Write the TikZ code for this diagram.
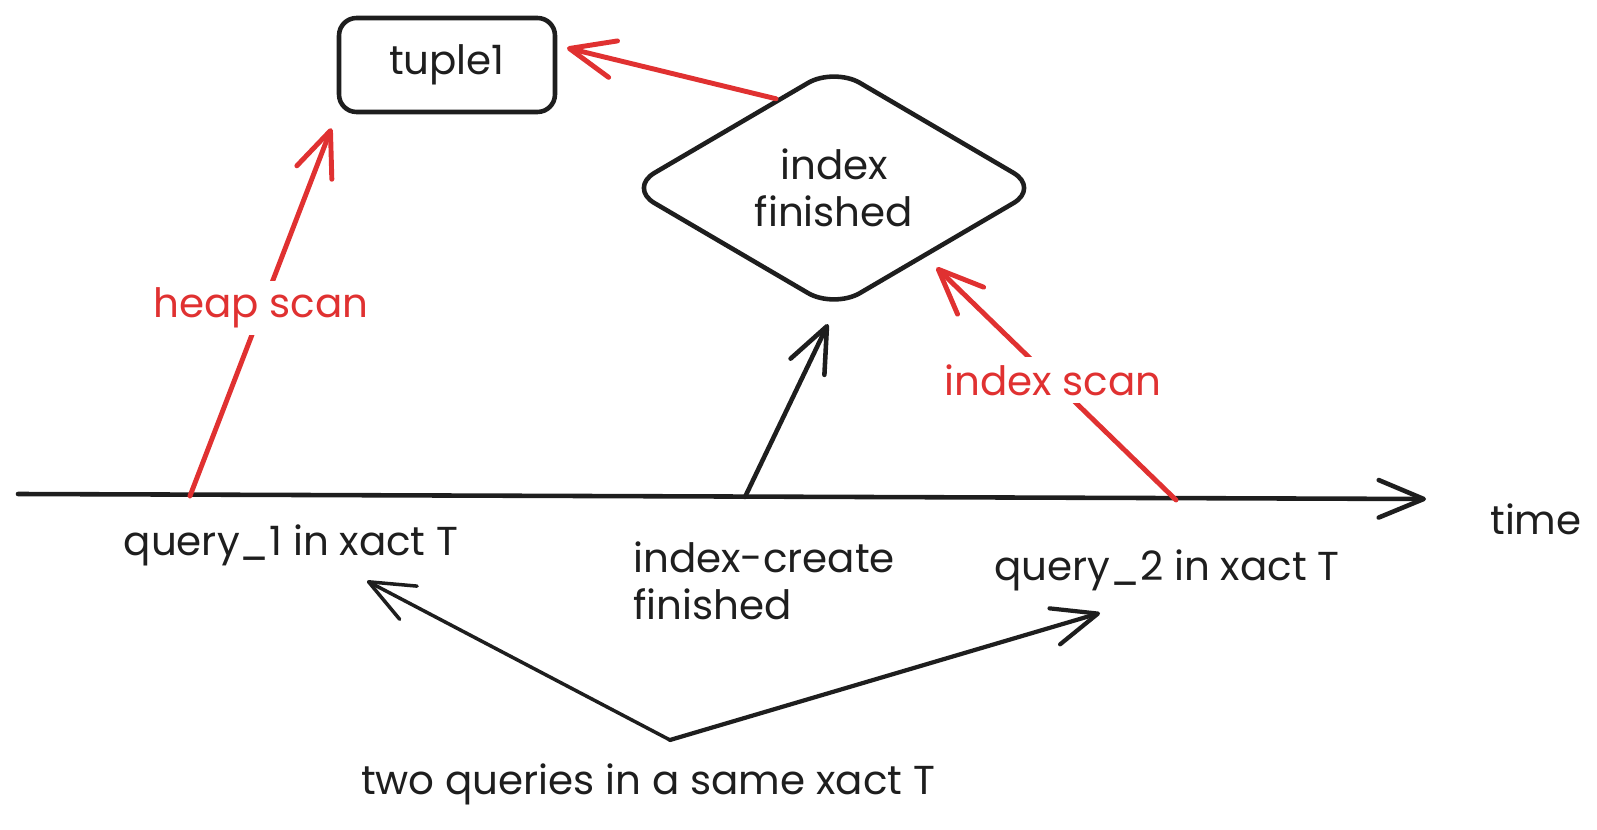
\documentclass[tikz,border=0pt]{standalone}
\usepackage{fontspec}
\setmainfont{Poppins}
\usetikzlibrary{arrows.meta, shapes.geometric}
\definecolor{inkblack}{HTML}{1E1E1E}
\definecolor{inkred}{HTML}{E03131}

\begin{document}
\begin{tikzpicture}[
    x=0.02cm, y=-0.02cm,
    font=\fontsize{23}{27}\selectfont, text=inkblack,
    tip/.style={-{Straight Barb[length=0.9cm, width=0.75cm, line cap=round, line join=round]}},
    blackarr/.style={tip, draw=inkblack, line width=2.6pt, line cap=round},
    thinarr/.style={tip, draw=inkblack, line width=2pt, line cap=round},
    redarr/.style={tip, draw=inkred, line width=2.8pt, line cap=round},
    box/.style={draw=inkblack, line width=2.6pt, rounded corners=0.35cm,
                minimum width=4.32cm, minimum height=1.88cm},
    decision/.style={diamond, draw=inkblack, line width=2.6pt, rounded corners=0.6cm,
                     inner sep=0pt, minimum width=8.25cm, minimum height=4.85cm, align=center},
    lbl/.style={inner sep=0pt, align=center},
    redlbl/.style={lbl, text=inkred, fill=white, inner sep=4pt}
  ]
  \useasboundingbox (0,0) rectangle (1597,830);

  % nodes
  \node[box] (tuple) at (447,65) {tuple1};
  \node[decision] (diam) at (834,188) {index\\finished};

  % time axis
  \coordinate (tstart) at (18,494);
  \coordinate (tend)   at (1426,499);
  \coordinate (q1)     at (190,496);
  \coordinate (cre)    at (745,497);
  \coordinate (q2)     at (1176,500);
  \draw[blackarr] (tstart) -- (tend);
  \node[lbl] (time) at (1536,519) {time};

  % labels under the axis
  \node[lbl] (q1txt) at (291,545) {query\_1 in xact T};
  \node[lbl, align=left] (cretxt) at (764,581) {index-create\\finished};
  \node[lbl] (q2txt) at (1167,570) {query\_2 in xact T};
  \node[lbl] (two) at (648,784) {two queries in a same xact T};

  % scans
  \draw[redarr, shorten >=0.3cm] (q1) -- (tuple.south west);
  \node[redlbl] (heaplbl) at (261,308) {heap scan};
  \draw[redarr, shorten >=0.3cm] (q2) -- (diam.-37);
  \node[redlbl] (idxlbl) at (1053,380) {index scan};
  \draw[redarr, shorten >=0.2cm] (diam.123) -- (tuple.10);
  \draw[blackarr, shorten >=0.28cm] (cre) -- (diam.south);

  % same transaction
  \coordinate (fork) at (670,740);
  \coordinate (tip1) at (367,581);
  \coordinate (tip2) at (1100,613);
  \draw[thinarr] (fork) -- (tip1);
  \draw[thinarr, line width=2.4pt] (fork) -- (tip2);
\end{tikzpicture}
\end{document}
